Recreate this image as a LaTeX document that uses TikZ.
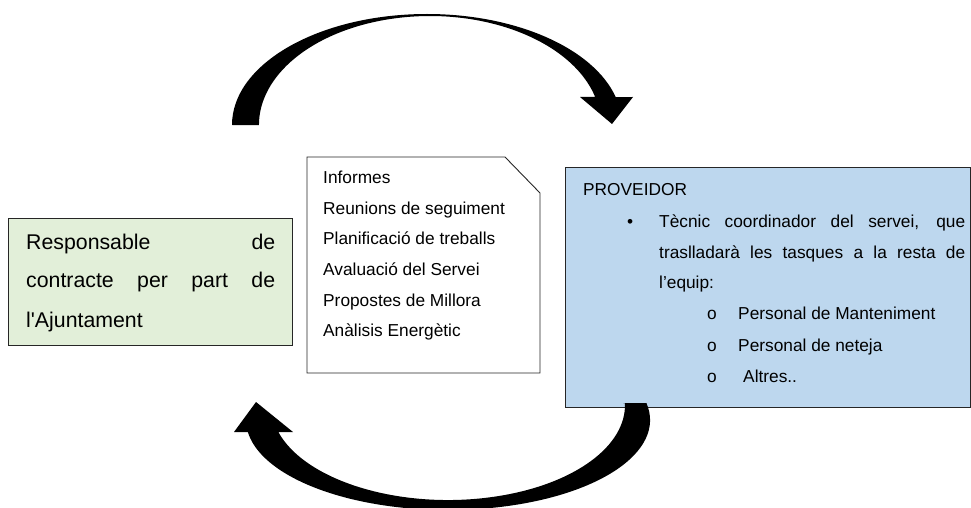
\documentclass[tikz,border=0pt]{standalone}
\usepackage{fontspec}
\setmainfont{Liberation Sans}
\definecolor{boxgreen}{HTML}{E2EFD9}
\definecolor{boxblue}{HTML}{BDD7EE}
\begin{document}
\begin{tikzpicture}[x=1pt,y=1pt,
  box/.style={draw=black!85, line width=0.9pt},
  bigtxt/.style={anchor=base west, inner sep=0pt, font=\fontsize{21.3}{25}\selectfont},
  txt/.style={anchor=base west, inner sep=0pt, font=\fontsize{17.3}{21}\selectfont},
  blockarrow/.style={fill=black, draw=none}]
\useasboundingbox (0,0) rectangle (971,507);

% left box
\node[box, fill=boxgreen, rectangle, minimum width=284pt, minimum height=127pt,
      anchor=south west, inner sep=0pt] (resp) at (8,161) {};
\node[bigtxt] (r1) at (26,258) {\makebox[249pt][s]{Responsable de}};
\node[bigtxt] (r2) at (26,220) {\makebox[249pt][s]{contracte per part de}};
\node[bigtxt] (r3) at (26,180) {l\textquotesingle Ajuntament};

% middle document box
\draw[box, fill=white] (307,134) -- (307,350) -- (505,350) -- (540,314) -- (540,134) -- cycle;
\node[txt] (m1) at (323,324) {Informes};
\node[txt] (m2) at (323,293) {Reunions de seguiment};
\node[txt] (m3) at (323,263) {Planificació de treballs};
\node[txt] (m4) at (323,232) {Avaluació del Servei};
\node[txt] (m5) at (323,201) {Propostes de Millora};
\node[txt] (m6) at (323,171) {Anàlisis Energètic};

% right box
\node[box, fill=boxblue, rectangle, minimum width=404.5pt, minimum height=240pt,
      anchor=south west, inner sep=0pt] (prov) at (565,99) {};
\node[txt] (p0) at (583,312) {PROVEIDOR};
\node[txt] (pb) at (627,280) {•};
\node[txt] (p1) at (659,280) {\makebox[306pt][s]{Tècnic coordinador del servei, que}};
\node[txt] (p2) at (659,249) {\makebox[306pt][s]{traslladarà les tasques a la resta de}};
\node[txt] (p3) at (659,219) {l’equip:};
\node[txt] (s1b) at (707,188) {o};
\node[txt] (s1) at (738,188) {Personal de Manteniment};
\node[txt] (s2b) at (707,156) {o};
\node[txt] (s2) at (738,156) {Personal de neteja};
\node[txt] (s3b) at (707,125) {o};
\node[txt] (s3) at (743,125) {Altres..};

% top curved arrow
\fill[blockarrow] (232,382) arc[start angle=180, end angle=14.6, x radius=195pt, y radius=111pt]
  -- (633,410) -- (612,383) -- (580,410) -- (595.2,410)
  arc[start angle=14.9, end angle=180, x radius=171pt, y radius=109pt] -- cycle;

% bottom curved arrow
\fill[blockarrow] (623,104) -- (646.4,104)
  arc[start angle=10.9, end angle=-172.3, x radius=202pt, y radius=90pt]
  -- (234,75) -- (256,105) -- (293,75) -- (278.3,75)
  arc[start angle=-163.5, end angle=1.2, x radius=177pt, y radius=95pt] -- cycle;
\end{tikzpicture}
\end{document}
